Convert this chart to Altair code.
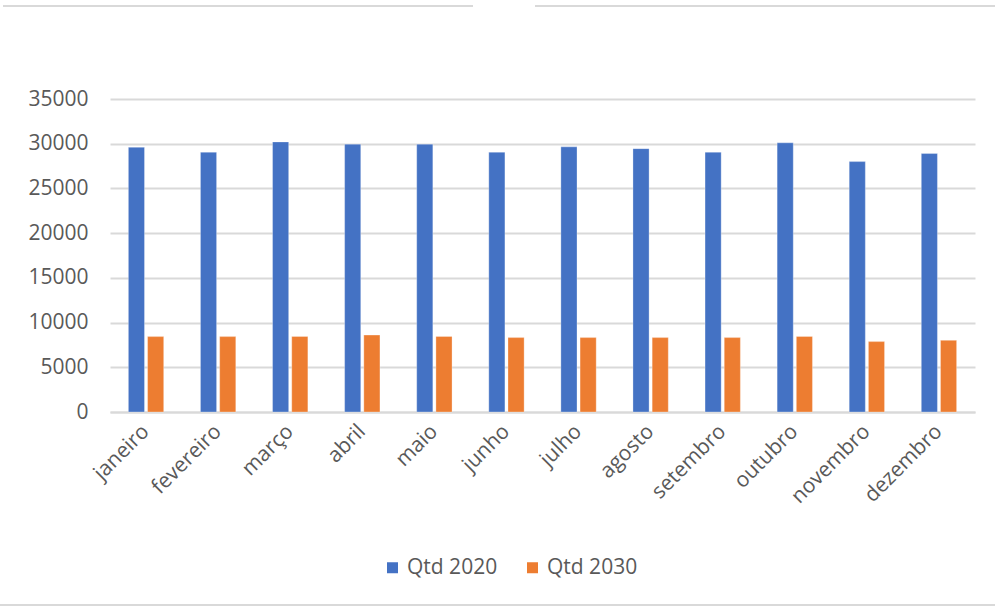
import altair as alt
import pandas as pd

months = ["janeiro", "fevereiro", "março", "abril", "maio", "junho",
          "julho", "agosto", "setembro", "outubro", "novembro", "dezembro"]
qtd_2020 = [29600, 29050, 30200, 29950, 29950, 29050, 29650, 29450, 29050, 30100, 28000, 28900]
qtd_2030 = [8430, 8430, 8450, 8600, 8450, 8320, 8320, 8320, 8320, 8450, 7870, 8010]
series = ["Qtd 2020", "Qtd 2030"]
y_ticks = [0, 5000, 10000, 15000, 20000, 25000, 30000, 35000]

rows = []
for m, a, b in zip(months, qtd_2020, qtd_2030):
    rows.append({"mes": m, "serie": series[0], "valor": a})
    rows.append({"mes": m, "serie": series[1], "valor": b})
df = pd.DataFrame(rows)

FONT = "Open Sans"
GREY = "#595959"
GRID = "#d9d9d9"

bars = alt.Chart(df).mark_bar(stroke="white", strokeWidth=0.6, strokeOpacity=0.5).encode(
    x=alt.X("mes:N", sort=months, title=None,
            scale=alt.Scale(paddingInner=0.51, paddingOuter=0.255),
            axis=alt.Axis(labelAngle=-45, labelAlign="right", labelBaseline="middle",
                          labelFontSize=21, labelColor=GREY, labelFont=FONT,
                          labelPadding=16, ticks=False, domainColor=GRID,
                          domainWidth=2, grid=False)),
    xOffset=alt.XOffset("serie:N", sort=series,
                        scale=alt.Scale(paddingInner=0.16, paddingOuter=0)),
    y=alt.Y("valor:Q", title=None,
            scale=alt.Scale(domain=[0, 35000], nice=False),
            axis=alt.Axis(values=y_ticks, labelFontSize=21, labelColor=GREY,
                          labelFont=FONT, labelPadding=22, ticks=False,
                          domain=False, gridColor=GRID, gridWidth=2,
                          format="d")),
    color=alt.Color("serie:N", sort=series,
                    scale=alt.Scale(domain=series, range=["#4472C4", "#ED7D31"]),
                    legend=alt.Legend(title=None, orient="none", direction="horizontal",
                                      legendX=272, legendY=458,
                                      symbolType="square", symbolSize=121,
                                      symbolStrokeWidth=0, labelFontSize=21,
                                      labelColor=GREY, labelFont=FONT,
                                      columnPadding=24, labelOffset=4)),
)

# thin frame pieces above and below the chart
frame = pd.DataFrame({"x0": [-107, 425, -110], "x1": [363, 885, 885],
                      "yy": [-93, -93, 506]})
rules = alt.Chart(frame).mark_rule(color=GRID, strokeWidth=2).encode(
    x=alt.X("x0:Q", scale=None), x2="x1:Q", y=alt.Y("yy:Q", scale=None)
)

chart = alt.layer(bars, rules).properties(
    width=865, height=313,
    padding={"left": 110, "top": 99, "right": 20, "bottom": 195},
    autosize=alt.AutoSizeParams(type="none"),
).configure(font=FONT).configure_view(strokeWidth=0, stroke="transparent")

chart.save("out.html", embed_options={"renderer": "svg", "actions": False})
